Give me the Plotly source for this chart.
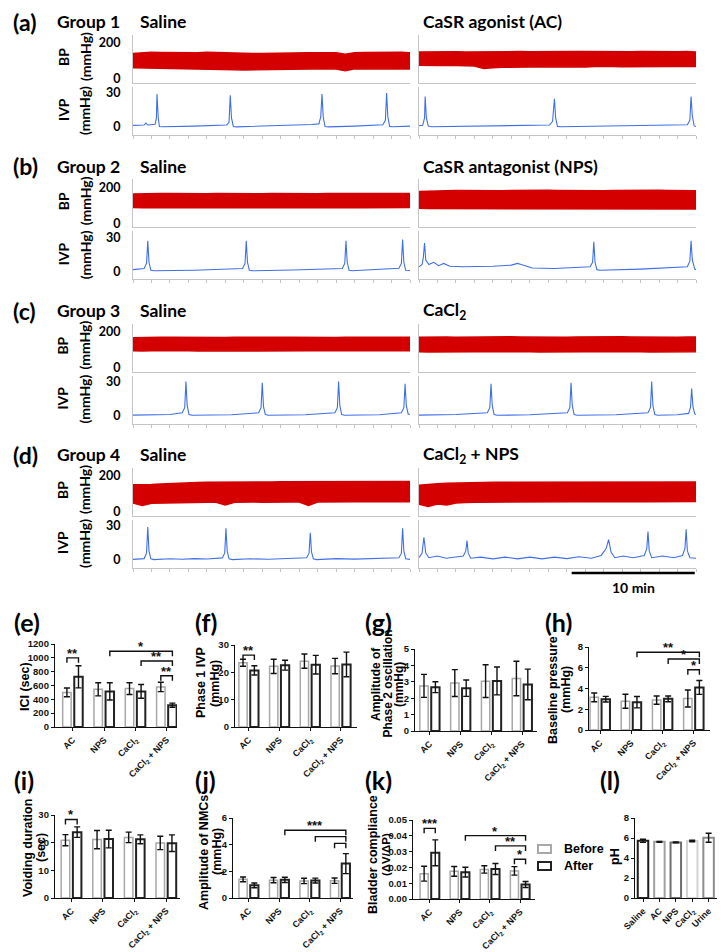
import plotly.graph_objects as go

# page geometry: the browser body adds an 8px margin, so the figure is drawn 8px in
PAGE_W, PAGE_H = 728, 952
OX, OY = 8, 8
FW, FH = PAGE_W - OX, PAGE_H - OY

# ================= DATA : recordings =================
trace_letters = ["(a)", "(b)", "(c)", "(d)"]
trace_groups = ["Group 1", "Group 2", "Group 3", "Group 4"]
trace_left_titles = ["Saline", "Saline", "Saline", "Saline"]
trace_right_titles = ["CaSR agonist (AC)", "CaSR antagonist (NPS)", "CaCl<sub>2</sub>", "CaCl<sub>2</sub> + NPS"]

bp_time = [0, 0.75, 1.5, 2.25, 3, 3.75, 4.5, 5.25, 6, 6.75, 7.5, 8.25, 9, 9.75, 10.5, 11.25,
           12, 12.75, 13.5, 14.25, 15, 15.75, 16.5, 17.25, 18, 18.75, 19.5, 20.25, 21, 21.75, 22.5]
# BP envelopes (mmHg): upper / lower
bp_up_a_sal = [142, 146, 148, 147, 146, 148, 147, 146, 148, 146, 145, 144, 143, 142, 141, 141, 142, 143, 144, 145, 146, 144, 145, 137, 146, 147, 148, 147, 146, 148, 146]
bp_lo_a_sal = [62, 58, 57, 56, 57, 55, 56, 54, 55, 53, 52, 51, 50, 50, 49, 50, 51, 52, 54, 55, 56, 57, 56, 46, 57, 56, 55, 54, 56, 55, 56]
bp_up_a_trt = [150, 151, 150, 152, 151, 150, 151, 152, 151, 152, 153, 152, 151, 152, 153, 152, 151, 153, 152, 151, 152, 153, 152, 151, 152, 151, 152, 153, 151, 152, 150]
bp_lo_a_trt = [77, 76, 75, 76, 75, 74, 72, 58, 62, 65, 66, 67, 66, 68, 67, 68, 69, 68, 67, 69, 70, 69, 68, 69, 70, 69, 68, 69, 70, 68, 70]
bp_up_b_sal = [162, 164, 165, 166, 165, 164, 166, 165, 164, 166, 165, 167, 166, 165, 164, 166, 165, 166, 167, 165, 164, 166, 165, 166, 164, 165, 166, 165, 164, 166, 165]
bp_lo_b_sal = [88, 87, 88, 86, 87, 88, 87, 86, 88, 87, 86, 88, 87, 86, 87, 88, 87, 86, 87, 88, 87, 86, 87, 88, 87, 86, 88, 87, 86, 87, 88]
bp_up_b_trt = [176, 179, 180, 181, 182, 181, 182, 183, 182, 181, 182, 183, 182, 181, 183, 182, 181, 182, 183, 182, 181, 182, 183, 182, 181, 182, 183, 182, 181, 182, 181]
bp_lo_b_trt = [84, 82, 80, 81, 79, 80, 81, 80, 79, 80, 81, 80, 79, 80, 81, 80, 79, 80, 81, 80, 79, 80, 81, 80, 79, 80, 81, 80, 79, 80, 80]
bp_up_c_sal = [166, 168, 167, 168, 169, 168, 167, 168, 169, 168, 167, 168, 169, 168, 167, 168, 169, 168, 167, 168, 169, 168, 167, 168, 169, 168, 167, 168, 169, 168, 168]
bp_lo_c_sal = [93, 92, 93, 92, 93, 94, 93, 92, 93, 94, 93, 92, 93, 92, 93, 94, 93, 92, 93, 94, 93, 92, 93, 92, 93, 94, 93, 92, 93, 92, 93]
bp_up_c_trt = [168, 170, 171, 170, 169, 170, 171, 170, 169, 170, 171, 170, 169, 170, 171, 170, 169, 170, 171, 170, 169, 170, 171, 170, 169, 170, 171, 170, 169, 170, 170]
bp_lo_c_trt = [88, 87, 88, 89, 88, 87, 88, 89, 88, 87, 88, 89, 88, 87, 88, 89, 88, 87, 88, 89, 88, 87, 88, 89, 88, 87, 88, 89, 88, 87, 88]
bp_up_d_sal = [150, 149, 152, 155, 158, 160, 162, 163, 164, 164, 162, 165, 165, 166, 166, 166, 167, 167, 167, 165, 167, 168, 168, 168, 168, 168, 168, 167, 168, 168, 168]
bp_lo_d_sal = [50, 36, 48, 52, 53, 53, 52, 53, 54, 54, 38, 54, 55, 55, 54, 55, 56, 55, 55, 36, 55, 56, 57, 56, 56, 57, 56, 57, 56, 57, 56]
bp_up_d_trt = [148, 150, 156, 159, 161, 162, 163, 163, 164, 164, 164, 165, 165, 165, 165, 166, 166, 166, 166, 166, 166, 167, 166, 166, 167, 166, 167, 166, 166, 167, 166]
bp_lo_d_trt = [42, 30, 44, 38, 50, 52, 54, 55, 55, 56, 56, 56, 57, 56, 57, 57, 57, 58, 57, 58, 57, 58, 57, 58, 58, 57, 58, 57, 58, 57, 58]

# IVP (mmHg) points read from the recordings (time in min)
ivp_t_a_sal = [0, 0.9, 1.05, 1.2, 1.8, 1.9, 1.95, 2.05, 2.15, 2.4, 5, 7.6, 7.8, 7.9, 8.0, 8.15, 8.4, 12, 14.5, 15.1, 15.25, 15.35, 15.45, 15.6, 15.9, 18, 20.3, 20.5, 20.6, 20.7, 20.85, 21.1, 22.5]
ivp_p_a_sal = [1.5, 1.8, 3.5, 1.8, 2.5, 8, 29, 8, 0.5, 0.3, 0.8, 1.8, 4, 28, 8, 0.5, 0.2, 1.0, 2.2, 2.8, 9, 29, 9, 0.5, 0.2, 0.8, 2.0, 6, 30, 9, 0.6, 0.3, 0.8]
ivp_t_a_trt = [0, 0.3, 0.45, 0.5, 0.6, 0.75, 1.0, 5, 10.6, 10.85, 11.0, 11.1, 11.25, 11.5, 16, 21.8, 22.0, 22.1, 22.2, 22.35, 22.5]
ivp_p_a_trt = [1.2, 1.5, 8, 27, 8, 0.8, 0.3, 0.8, 1.8, 5, 25, 8, 0.6, 0.3, 0.9, 2.0, 6, 27, 10, 1.0, 0.5]
ivp_t_b_sal = [0, 0.9, 1.1, 1.2, 1.3, 1.45, 1.7, 5, 8.9, 9.1, 9.2, 9.3, 9.45, 9.7, 13, 17.0, 17.2, 17.3, 17.4, 17.55, 17.8, 20, 21.6, 21.8, 21.9, 22.0, 22.15, 22.5]
ivp_p_b_sal = [1.5, 2.5, 7, 27, 8, 1.0, 0.5, 1.0, 2.5, 7, 27, 8, 1.0, 0.5, 1.2, 2.5, 7, 27, 8, 1.0, 0.5, 1.5, 2.8, 7, 28, 8, 1.0, 0.8]
ivp_t_b_trt = [0, 0.25, 0.35, 0.45, 0.55, 0.8, 1.2, 1.6, 2.0, 2.5, 3.5, 6, 7.5, 8.0, 8.3, 8.7, 9.2, 11, 13.9, 14.1, 14.2, 14.3, 14.45, 14.7, 18, 21.8, 22.0, 22.1, 22.2, 22.4, 22.5]
ivp_p_b_trt = [4, 6, 12, 25, 10, 6, 8, 5, 7, 4.5, 4, 4.5, 5.5, 7, 6, 4.5, 3, 2.5, 4, 8, 26, 8, 1.5, 1, 2, 4, 9, 27, 10, 2, 1.5]
ivp_t_c_sal = [0, 3, 4.0, 4.2, 4.3, 4.4, 4.55, 4.8, 8, 10.2, 10.4, 10.5, 10.6, 10.75, 11.0, 14, 16.4, 16.6, 16.7, 16.8, 16.95, 17.2, 20, 21.8, 22.0, 22.1, 22.2, 22.35, 22.5]
ivp_p_c_sal = [0.5, 1.0, 2.5, 7, 30, 9, 1, 0.3, 0.8, 2.5, 7, 29, 8, 1, 0.3, 0.8, 2.5, 7, 30, 9, 1, 0.3, 0.8, 2.5, 7, 28, 9, 1.5, 1]
ivp_t_c_trt = [0, 3, 5.55, 5.75, 5.85, 5.95, 6.1, 6.35, 9, 12.05, 12.25, 12.35, 12.45, 12.6, 12.85, 16, 18.6, 18.8, 18.9, 19.0, 19.15, 19.4, 21.0, 21.9, 22.05, 22.15, 22.25, 22.4, 22.5]
ivp_p_c_trt = [0.5, 1.0, 2.5, 7, 28, 9, 1, 0.3, 0.8, 2.5, 7, 29, 9, 1, 0.3, 0.8, 2.5, 7, 30, 9, 1, 0.3, 0.8, 2, 7, 24, 8, 1.5, 1]
ivp_t_d_sal = [0, 0.9, 1.1, 1.2, 1.3, 1.45, 1.7, 3, 4, 5, 6, 7.25, 7.45, 7.55, 7.65, 7.8, 8.1, 9.5, 11, 12.5, 14.1, 14.3, 14.4, 14.5, 14.65, 14.9, 16.5, 18, 19.5, 21.6, 21.8, 21.9, 22.0, 22.15, 22.5]
ivp_p_d_sal = [0.5, 1.2, 6, 29, 8, 1, 0.3, 1.0, 0.6, 1.2, 0.8, 1.8, 6, 28, 8, 1, 0.3, 1.0, 0.6, 1.2, 2, 6, 24, 7, 1, 0.3, 1.2, 0.7, 1.2, 2, 6, 28, 8, 1, 0.5]
ivp_t_d_trt = [0, 0.25, 0.4, 0.55, 0.8, 1.5, 2.2, 3.0, 3.6, 3.8, 3.9, 4.0, 4.2, 5, 6, 7, 8, 9, 10, 11, 12, 13, 14, 14.8, 15.2, 15.4, 15.6, 15.9, 16.6, 17.4, 18.3, 18.5, 18.6, 18.7, 18.9, 19.8, 20.7, 21.4, 21.6, 21.7, 21.8, 22.0, 22.5]
ivp_p_d_trt = [2, 6, 20, 6, 2, 3.5, 1.5, 3, 3.5, 8, 17, 6, 1.5, 2.5, 1, 2.5, 1, 2.5, 1, 2.5, 1.2, 2.8, 1.5, 4, 10, 18, 7, 2, 3.5, 2, 4, 10, 25, 8, 2, 3.5, 2, 4, 10, 27, 8, 2, 1.5]

bp_sets = [[(bp_up_a_sal, bp_lo_a_sal), (bp_up_a_trt, bp_lo_a_trt)],
           [(bp_up_b_sal, bp_lo_b_sal), (bp_up_b_trt, bp_lo_b_trt)],
           [(bp_up_c_sal, bp_lo_c_sal), (bp_up_c_trt, bp_lo_c_trt)],
           [(bp_up_d_sal, bp_lo_d_sal), (bp_up_d_trt, bp_lo_d_trt)]]
ivp_sets = [[(ivp_t_a_sal, ivp_p_a_sal), (ivp_t_a_trt, ivp_p_a_trt)],
            [(ivp_t_b_sal, ivp_p_b_sal), (ivp_t_b_trt, ivp_p_b_trt)],
            [(ivp_t_c_sal, ivp_p_c_sal), (ivp_t_c_trt, ivp_p_c_trt)],
            [(ivp_t_d_sal, ivp_p_d_sal), (ivp_t_d_trt, ivp_p_d_trt)]]

# ================= DATA : bar charts =================
bar_categories = ["AC", "NPS", "CaCl<sub>2</sub>", "CaCl<sub>2</sub> + NPS"]

ici_before = [500, 545, 555, 580]
ici_before_err = [63, 95, 85, 68]
ici_after = [725, 515, 515, 315]
ici_after_err = [160, 125, 100, 30]

ph1_before = [23.5, 22.2, 24.1, 22.3]
ph1_before_err = [1.3, 2.6, 2.6, 2.8]
ph1_after = [20.7, 22.6, 22.8, 22.9]
ph1_after_err = [1.7, 1.8, 3.4, 4.5]

ph2_before = [2.75, 2.92, 3.04, 3.20]
ph2_before_err = [0.70, 0.82, 1.0, 1.05]
ph2_after = [2.67, 2.61, 3.05, 2.84]
ph2_after_err = [0.33, 0.50, 0.85, 0.93]

base_before = [3.15, 2.77, 2.88, 3.03]
base_before_err = [0.42, 0.68, 0.40, 0.82]
base_after = [2.97, 2.68, 3.0, 4.1]
base_after_err = [0.27, 0.55, 0.27, 0.67]

void_before = [20.9, 21.1, 21.9, 19.9]
void_before_err = [2.0, 3.3, 1.9, 2.4]
void_after = [23.8, 21.3, 21.2, 19.8]
void_after_err = [1.9, 3.2, 1.6, 3.0]

nmc_before = [1.40, 1.34, 1.28, 1.30]
nmc_before_err = [0.18, 0.20, 0.20, 0.20]
nmc_after = [0.95, 1.36, 1.31, 2.58]
nmc_after_err = [0.18, 0.20, 0.18, 0.75]

comp_before = [0.0160, 0.0175, 0.0187, 0.0178]
comp_before_err = [0.0047, 0.0031, 0.0023, 0.0027]
comp_after = [0.0292, 0.0170, 0.0190, 0.0092]
comp_after_err = [0.0082, 0.0031, 0.0035, 0.0019]

ph_categories = ["Saline", "AC", "NPS", "CaCl<sub>2</sub>", "Urine"]
ph_values = [5.72, 5.62, 5.56, 5.70, 6.02]
ph_err = [0.16, 0.04, 0.05, 0.08, 0.45]
ph_colors = ["#1e1e1e", "#a0a0a0", "#6e6e6e", "#d2d2d2", "#8c8c8c"]

# significance comparisons: (category a, bar a, category b, bar b, level, stars); bar 0 = Before, 1 = After
sig_ici = [(0, 0, 0, 1, 1000, "**"), (1, 1, 3, 1, 1095, "*"), (2, 1, 3, 1, 955, "**"), (3, 0, 3, 1, 740, "**")]
sig_ph1 = [(0, 0, 0, 1, 26.3, "**")]
sig_base = [(1, 1, 3, 1, 7.5, "**"), (2, 1, 3, 1, 6.84, "*"), (3, 0, 3, 1, 5.8, "*")]
sig_void = [(0, 0, 0, 1, 28.4, "*")]
sig_nmc = [(1, 1, 3, 1, 5.08, "***"), (2, 1, 3, 1, 4.6, ""), (3, 0, 3, 1, 4.1, "")]
sig_comp = [(0, 0, 0, 1, 0.0447, "***"), (1, 1, 3, 1, 0.0401, "*"), (2, 1, 3, 1, 0.0336, "**"), (3, 0, 3, 1, 0.0252, "*")]

legend_labels = ["Before", "After"]

# ================= STYLE =================
RED = "#d40000"
BLUE = "#3f6fe8"
GRAYAX = "#c4c4c4"
BEFORE_C = "#a8a8a8"
AFTER_C = "#222222"
CAL = "Lato"
ARI = "Liberation Sans"
BAR_OFF = [-0.185, 0.185]
BAR_W = 0.27

fig = go.Figure()
layout = dict(width=FW, height=FH, margin=dict(l=0, r=0, t=0, b=0, autoexpand=False),
              paper_bgcolor="white", plot_bgcolor="white", showlegend=False)
shapes = []
annotations = []
n_axes = [0]


def px(x):
    return (x - OX) / FW


def py(y):
    return 1 - (y - OY) / FH


def new_axes(x0, x1, ytop, ybot, xr, yr, xopts, yopts):
    n_axes[0] += 1
    n = n_axes[0]
    sfx = "" if n == 1 else str(n)
    layout["xaxis" + sfx] = dict(domain=[px(x0), px(x1)], range=xr, anchor="y" + sfx, fixedrange=True, **xopts)
    layout["yaxis" + sfx] = dict(domain=[py(ybot), py(ytop)], range=yr, anchor="x" + sfx, fixedrange=True, **yopts)
    return "x" + sfx, "y" + sfx


def text(x, y, s, size, family=CAL, anchor="left", angle=0, color="black"):
    annotations.append(dict(x=px(x), y=py(y), xref="paper", yref="paper", text=s, showarrow=False,
                            xanchor=anchor, yanchor="middle", textangle=angle,
                            font=dict(family=family, size=size, color=color, weight="bold")))


def vtext(x, y, s, size, family=ARI):
    text(x, y, s, size, family=family, anchor="center", angle=-90)


# ================= RECORDINGS =================
GDY = 144.3
for g in range(4):
    off = g * GDY
    text(11, 22 + off, trace_letters[g], 23)
    text(55, 22 + off, trace_groups[g], 17.5)
    text(138, 22 + off, trace_left_titles[g], 17.5)
    text(421, 22 + off, trace_right_titles[g], 17.5)
    vtext(63, 57 + off, "BP", 14, family=CAL)
    vtext(85, 57 + off, "(mmHg)", 14, family=CAL)
    vtext(63, 110 + off, "IVP", 14, family=CAL)
    vtext(85, 111 + off, "(mmHg)", 14, family=CAL)
    for side in range(2):
        x0, x1 = (133, 410) if side == 0 else (419, 696)
        yopts = dict(showline=True, linecolor=GRAYAX, linewidth=1, ticks="outside", ticklen=9,
                     tickcolor="rgba(0,0,0,0)", showgrid=False, zeroline=False,
                     showticklabels=(side == 0), tickfont=dict(family=CAL, size=12.5, color="black", weight="bold"))
        xopts_bp = dict(showline=True, linecolor=GRAYAX, linewidth=1, ticks="", showgrid=False, zeroline=False,
                        showticklabels=False)
        xopts_ivp = dict(showline=True, linecolor=GRAYAX, linewidth=1, ticks="outside", ticklen=3,
                         tickcolor=GRAYAX, dtick=1.5, tick0=0, showgrid=False, zeroline=False, showticklabels=False)
        xa, ya = new_axes(x0, x1, 35 + off, 83 + off, [0, 22.5], [-22, 244], xopts_bp,
                          dict(tickvals=[0, 200], **yopts))
        up, lo = bp_sets[g][side]
        fig.add_trace(go.Scatter(x=bp_time + bp_time[::-1], y=up + lo[::-1], mode="lines", fill="toself",
                                 fillcolor=RED, line=dict(color=RED, width=1.5), xaxis=xa, yaxis=ya,
                                 hoverinfo="skip"))
        xa2, ya2 = new_axes(x0, x1, 87 + off, 135 + off, [0, 22.5], [-7, 35.3], xopts_ivp,
                            dict(tickvals=[0, 30], **yopts))
        tt, pp = ivp_sets[g][side]
        fig.add_trace(go.Scatter(x=tt, y=pp, mode="lines", line=dict(color=BLUE, width=1.1),
                                 xaxis=xa2, yaxis=ya2, hoverinfo="skip"))
        if g == 3 and side == 1:
            scale_x = xa2

# scale bar 10 min
shapes.append(dict(type="line", xref=scale_x, yref="paper", x0=12.4, x1=22.4, y0=py(573), y1=py(573),
                   line=dict(color="black", width=2.5)))
annotations.append(dict(x=17.4, y=py(587), xref=scale_x, yref="paper", text="10 min", showarrow=False,
                        xanchor="center", yanchor="middle",
                        font=dict(family=CAL, size=14, color="black", weight="bold")))


# ================= BAR CHARTS =================
def bar_axes(x0, x1, c0, sp, ytop, ybot, ymax, dtick, cats, fmt=None):
    xr = [(x0 - c0) / sp, (x1 - c0) / sp]
    xopts = dict(showline=True, linecolor="#111", linewidth=1.3, ticks="outside", ticklen=3, tickcolor="#111",
                 tickvals=list(range(len(cats))), ticktext=cats, tickangle=-45, showgrid=False, zeroline=False,
                 tickfont=dict(family=ARI, size=9, color="#111", weight="bold"))
    yopts = dict(showline=True, linecolor="#111", linewidth=1.3, ticks="outside", ticklen=3, tickcolor="#111",
                 dtick=dtick, tick0=0, showgrid=False, zeroline=False,
                 tickfont=dict(family=ARI, size=9.5, color="#111", weight="bold"))
    if fmt:
        yopts["tickformat"] = fmt
    return new_axes(x0, x1, ytop, ybot, xr, [0, ymax], xopts, yopts)


def before_after(xa, ya, vb, eb, va, ea):
    n = len(vb)
    for k, (vals, errs, col, lw) in enumerate([(vb, eb, BEFORE_C, 1.5), (va, ea, AFTER_C, 2.0)]):
        fig.add_trace(go.Bar(x=[i + BAR_OFF[k] for i in range(n)], y=vals, width=BAR_W,
                             marker=dict(color="white", line=dict(color=col, width=lw)),
                             error_y=dict(type="data", array=errs, color="#111", thickness=1.4, width=3),
                             xaxis=xa, yaxis=ya, hoverinfo="skip"))


def sig(xa, ya, comps, drop):
    for (ca, ba, cb, bb, lev, lab) in comps:
        a = ca + BAR_OFF[ba]
        b = cb + BAR_OFF[bb]
        shapes.append(dict(type="path", xref=xa, yref=ya,
                           path=f"M {a},{lev - drop} L {a},{lev} L {b},{lev} L {b},{lev - drop}",
                           line=dict(color="#111", width=1.4)))
        if lab:
            annotations.append(dict(x=(a + b) / 2, y=lev, xref=xa, yref=ya, text=lab, showarrow=False,
                                    xanchor="center", yanchor="bottom", yshift=-5,
                                    font=dict(family=ARI, size=13, color="#111", weight="bold")))


# (e) ICI
xa, ya = bar_axes(55, 177, 72.7, 31.3, 644, 727, 1200, 200, bar_categories)
before_after(xa, ya, ici_before, ici_before_err, ici_after, ici_after_err)
sig(xa, ya, sig_ici, 1200 * 5 / 83)
text(12, 622, "(e)", 25)
vtext(25, 687, "ICI (sec)", 12.5)

# (f) Phase 1 IVP
xa, ya = bar_axes(235, 357, 248.7, 30.7, 645, 727, 30, 10, bar_categories)
before_after(xa, ya, ph1_before, ph1_before_err, ph1_after, ph1_after_err)
sig(xa, ya, sig_ph1, 30 * 5 / 82)
text(193, 622, "(f)", 25)
vtext(201, 683, "Phase 1 IVP", 12.5)
vtext(215, 683, "(mmHg)", 12.5)

# (g) Phase 2 oscillation
xa, ya = bar_axes(415, 537, 429.7, 30.8, 649, 731, 5, 1, bar_categories)
before_after(xa, ya, ph2_before, ph2_before_err, ph2_after, ph2_after_err)
text(363, 622, "(g)", 25)
vtext(376, 684, "Amplitude of", 12)
vtext(387.5, 684, "Phase 2 oscillation", 12)
vtext(399, 684, "(mmHg)", 12)

# (h) Baseline pressure
xa, ya = bar_axes(589, 710, 600, 31.2, 647, 730, 8, 2, bar_categories)
before_after(xa, ya, base_before, base_before_err, base_after, base_after_err)
sig(xa, ya, sig_base, 8 * 5 / 83)
text(543, 622, "(h)", 25)
vtext(553, 690, "Baseline pressure", 12.5)
vtext(566, 690, "(mmHg)", 12.5)

# (i) Voiding duration
xa, ya = bar_axes(55, 180, 71.3, 31.6, 815, 898, 30, 10, bar_categories)
before_after(xa, ya, void_before, void_before_err, void_after, void_after_err)
sig(xa, ya, sig_void, 30 * 5 / 83)
text(12, 780, "(i)", 25)
vtext(28, 848, "Voiding duration", 12.5)
vtext(41, 848, "(sec)", 12.5)

# (j) Amplitude of NMCs
xa, ya = bar_axes(233, 353, 248.7, 30.5, 818, 898, 6, 2, bar_categories)
before_after(xa, ya, nmc_before, nmc_before_err, nmc_after, nmc_after_err)
sig(xa, ya, sig_nmc, 6 * 5 / 80)
text(193, 780, "(j)", 25)
vtext(204, 852, "Amplitude of NMCs", 12.5)
vtext(217, 852, "(mmHg)", 12.5)

# (k) Bladder compliance
xa, ya = bar_axes(413, 535, 429.7, 30.1, 820, 899, 0.05, 0.01, bar_categories, fmt=".2f")
before_after(xa, ya, comp_before, comp_before_err, comp_after, comp_after_err)
sig(xa, ya, sig_comp, 0.05 * 5 / 79)
text(363, 780, "(k)", 25)
vtext(373, 855, "Bladder compliance", 12.5)
vtext(386, 855, "(ΔV/ΔP)", 11.5)

# legend
for k, lab in enumerate(legend_labels):
    yc = 849 + k * 17
    shapes.append(dict(type="rect", xref="paper", yref="paper", x0=px(538), x1=px(551),
                       y0=py(yc + 4), y1=py(yc - 4), fillcolor="white",
                       line=dict(color=[BEFORE_C, AFTER_C][k], width=2)))
    text(562, yc, lab, 12.5, family=ARI)

# (l) pH
xa, ya = bar_axes(635, 717, 643, 16.4, 818, 898, 8, 2, ph_categories)
fig.add_trace(go.Bar(x=list(range(len(ph_values))), y=ph_values, width=0.64,
                     marker=dict(color="white", line=dict(color=ph_colors, width=2)),
                     error_y=dict(type="data", array=ph_err, color="#111", thickness=1.4, width=3),
                     xaxis=xa, yaxis=ya, hoverinfo="skip"))
text(598, 780, "(l)", 25)
vtext(615, 857, "pH", 12.5)

layout["shapes"] = shapes
layout["annotations"] = annotations
fig.update_layout(**layout)
fig.write_html("out.html")
